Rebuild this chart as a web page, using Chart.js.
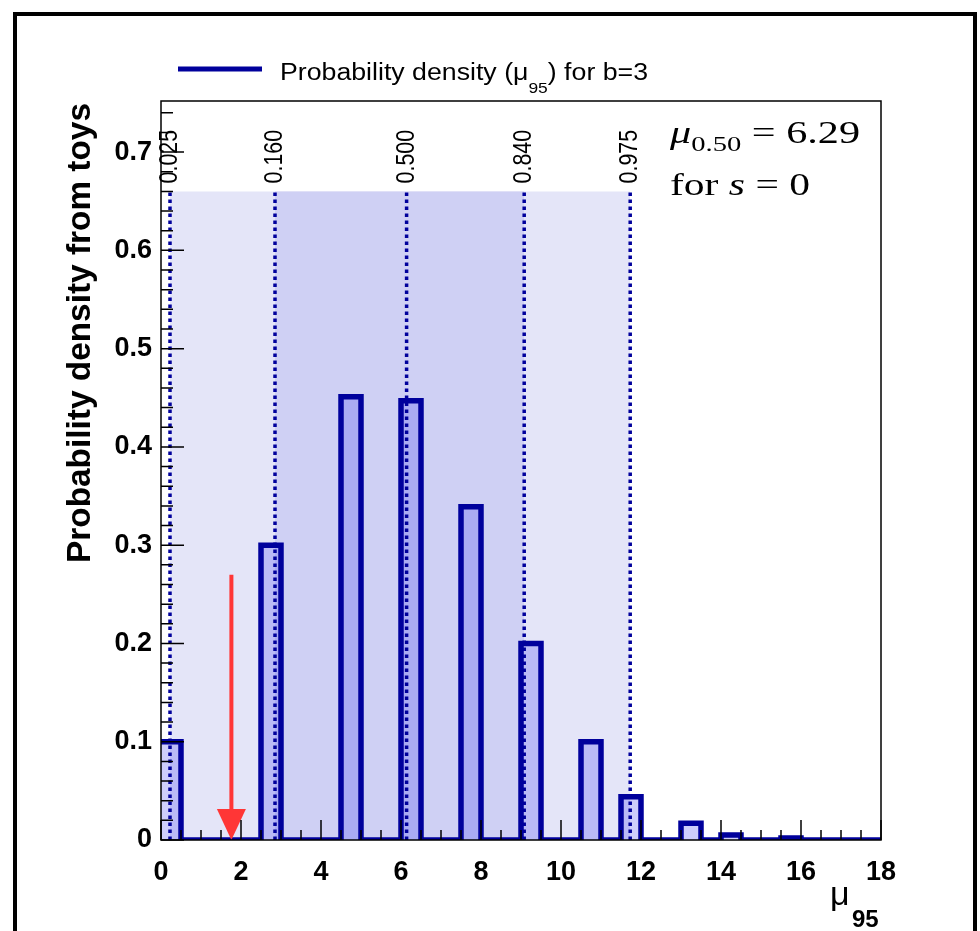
<!DOCTYPE html>
<html lang="en">
<head>
<meta charset="UTF-8" />
<title>mu95 from toys</title>
<style>
  html, body { margin: 0; padding: 0; background: #fff; }
  .container { width: 980px; height: 931px; position: relative; }
</style>
</head>
<body>
<div class="container"><canvas id="myChart"></canvas></div>
<script src="https://cdn.jsdelivr.net/npm/chart.js"></script>
<script>
// histogram: left edge of each 0.5-wide bin and its density
const binLow = [0, 0.5, 1, 1.5, 2, 2.5, 3, 3.5, 4, 4.5, 5, 5.5, 6, 6.5, 7, 7.5, 8, 8.5,
  9, 9.5, 10, 10.5, 11, 11.5, 12, 12.5, 13, 13.5, 14, 14.5, 15, 15.5, 16, 16.5, 17, 17.5];
const density = [0.100, 0, 0, 0, 0, 0.300, 0, 0, 0, 0.451, 0, 0, 0.447, 0, 0, 0.339, 0, 0,
  0.200, 0, 0, 0.100, 0, 0.044, 0, 0, 0.017, 0, 0.005, 0, 0, 0.002, 0, 0, 0, 0];
const xEnd = 18;

// quantiles of the distribution
const quantLabels = ['0.025', '0.160', '0.500', '0.840', '0.975'];
const quantX = [0.225, 2.85, 6.14, 9.08, 11.73];
const bandTop = 0.66;

// red arrow (observed limit)
const arrowX = 1.76;
const arrowTop = 0.27;
const arrowShaftEnd = 0.03;
const arrowTip = 0;

const xMin = 0, xMax = 18, xStep = 2;
const yMin = 0, yMax = 0.752, yStep = 0.1;

const SANS = '"Liberation Sans", Arial, Helvetica, sans-serif';
const SERIF = '"Liberation Serif", "Times New Roman", serif';
const NAVY = '#00009c';

const histData = binLow.map((x, i) => ({ x, y: density[i] }));
histData.push({ x: xEnd, y: density[density.length - 1] });

const band = (x0, x1, color, order) => ({
  data: [{ x: x0, y: bandTop }, { x: x1, y: bandTop }],
  borderColor: 'transparent', borderWidth: 0, pointRadius: 0,
  fill: 'origin', backgroundColor: color, order
});

const quantLines = quantX.map(q => ({
  data: [{ x: q, y: 0 }, { x: q, y: bandTop }],
  borderColor: NAVY, borderWidth: 3.5, borderDash: [3.5, 3.5], pointRadius: 0,
  fill: false, order: 3
}));

// draw several text pieces on one baseline, squeezed/stretched to a width
function fitParts(ctx, parts, width) {
  let total = 0;
  parts.forEach(p => { ctx.font = p.f; p.w = ctx.measureText(p.t).width; total += p.w; });
  const s = width ? width / total : 1;
  ctx.save();
  ctx.scale(s, 1);
  let x = 0;
  parts.forEach(p => { ctx.font = p.f; ctx.fillText(p.t, x, p.dy || 0); x += p.w; });
  ctx.restore();
}

const decor = {
  id: 'decor',
  afterDatasetsDraw(chart) {
    const { ctx, chartArea: a, scales: { x, y } } = chart;
    ctx.save();
    // arrow head
    const ax = x.getPixelForValue(arrowX), tip = y.getPixelForValue(arrowTip);
    ctx.fillStyle = '#ff3636';
    ctx.beginPath();
    ctx.moveTo(ax, tip);
    ctx.lineTo(ax - 14.5, tip - 31);
    ctx.lineTo(ax + 14.5, tip - 31);
    ctx.closePath();
    ctx.fill();

    // ticks inside the frame
    ctx.strokeStyle = '#000';
    ctx.lineWidth = 1.5;
    ctx.beginPath();
    for (let k = 0; k * 0.02 <= yMax + 1e-9; k++) {
      const py = y.getPixelForValue(k * 0.02);
      const len = k % 5 === 0 ? 23 : 12;
      ctx.moveTo(a.left, py); ctx.lineTo(a.left + len, py);
    }
    for (let k = 0; k * 0.5 <= xMax + 1e-9; k++) {
      const px = x.getPixelForValue(k * 0.5);
      const len = k % 4 === 0 ? 20 : 10;
      ctx.moveTo(px, a.bottom); ctx.lineTo(px, a.bottom - len);
    }
    ctx.stroke();
    ctx.strokeRect(a.left, a.top, a.right - a.left, a.bottom - a.top);

    // quantile labels
    ctx.fillStyle = '#000';
    ctx.textAlign = 'left';
    ctx.textBaseline = 'middle';
    ctx.font = '21px ' + SANS;
    const ly = y.getPixelForValue(bandTop) - 8;
    quantX.forEach((q, i) => {
      ctx.save();
      ctx.translate(x.getPixelForValue(q), ly);
      ctx.rotate(-Math.PI / 2);
      ctx.scale(1.02, 1.25);
      ctx.fillText(quantLabels[i], 0, 0);
      ctx.restore();
    });
    ctx.restore();
  },
  afterDraw(chart) {
    const { ctx } = chart;
    ctx.save();
    ctx.fillStyle = '#000';
    ctx.textBaseline = 'alphabetic';
    ctx.textAlign = 'left';

    // legend
    ctx.strokeStyle = NAVY;
    ctx.lineWidth = 5;
    ctx.beginPath(); ctx.moveTo(178, 69); ctx.lineTo(262, 69); ctx.stroke();
    ctx.save();
    ctx.translate(280, 80);
    fitParts(ctx, [
      { t: 'Probability density (\u03bc', f: '23px ' + SANS },
      { t: '95', f: '15px ' + SANS, dy: 13 },
      { t: ') for b=3', f: '23px ' + SANS }
    ], 368);
    ctx.restore();

    // y title
    ctx.save();
    ctx.translate(90, 103);
    ctx.rotate(-Math.PI / 2);
    ctx.translate(-460, 0);
    fitParts(ctx, [{ t: 'Probability density from toys', f: 'bold 33px ' + SANS }], 460);
    ctx.restore();

    // x title
    ctx.font = '34px ' + SANS;
    ctx.fillText('\u03bc', 830, 905);
    ctx.font = 'bold 24px ' + SANS;
    ctx.fillText('95', 852, 927);

    // median text
    ctx.save();
    ctx.translate(670, 143);
    fitParts(ctx, [
      { t: '\u03bc', f: 'italic 31px ' + SERIF },
      { t: '0.50', f: '21px ' + SERIF, dy: 8 },
      { t: ' = 6.29', f: '31px ' + SERIF }
    ], 190);
    ctx.restore();
    ctx.save();
    ctx.translate(670, 195);
    fitParts(ctx, [
      { t: 'for ', f: '31px ' + SERIF },
      { t: 's', f: 'italic 31px ' + SERIF },
      { t: ' = 0', f: '31px ' + SERIF }
    ], 140);
    ctx.restore();

    // outer frame
    ctx.strokeStyle = '#000';
    ctx.lineWidth = 4;
    ctx.strokeRect(15, 14, 960, 940);
    ctx.restore();
  }
};

new Chart(document.getElementById('myChart'), {
  type: 'line',
  data: {
    datasets: [
      {
        data: [{ x: arrowX, y: arrowTop }, { x: arrowX, y: arrowShaftEnd }],
        borderColor: '#ff3636', borderWidth: 4, pointRadius: 0, fill: false, order: 1
      },
      ...quantLines,
      {
        data: histData, stepped: true, fill: 'origin',
        backgroundColor: 'rgba(60, 60, 240, 0.25)', borderColor: NAVY,
        borderWidth: 5.5, borderJoinStyle: 'miter', pointRadius: 0, order: 5
      },
      band(quantX[1], quantX[3], '#cfd0f4', 9),
      band(quantX[0], quantX[4], '#e4e5f8', 10)
    ]
  },
  options: {
    responsive: true,
    maintainAspectRatio: false,
    animation: false,
    layout: { padding: { left: 0, top: 101, right: 99, bottom: 0 } },
    plugins: { legend: { display: false }, tooltip: { enabled: false } },
    scales: {
      x: {
        type: 'linear', min: xMin, max: xMax,
        afterFit: s => { s.height = 91; },
        grid: { display: false, drawTicks: false },
        border: { display: false },
        ticks: {
          stepSize: xStep, includeBounds: false, autoSkip: false, maxRotation: 0,
          padding: 16, color: '#000', font: { family: SANS, size: 27, weight: 'bold' }
        }
      },
      y: {
        min: yMin, max: yMax,
        afterFit: s => { s.width = 161; },
        grid: { display: false, drawTicks: false },
        border: { display: false },
        ticks: {
          stepSize: yStep, includeBounds: false, padding: 9, color: '#000',
          font: { family: SANS, size: 27, weight: 'bold' }
        }
      }
    }
  },
  plugins: [decor]
});
</script>
</body>
</html>
